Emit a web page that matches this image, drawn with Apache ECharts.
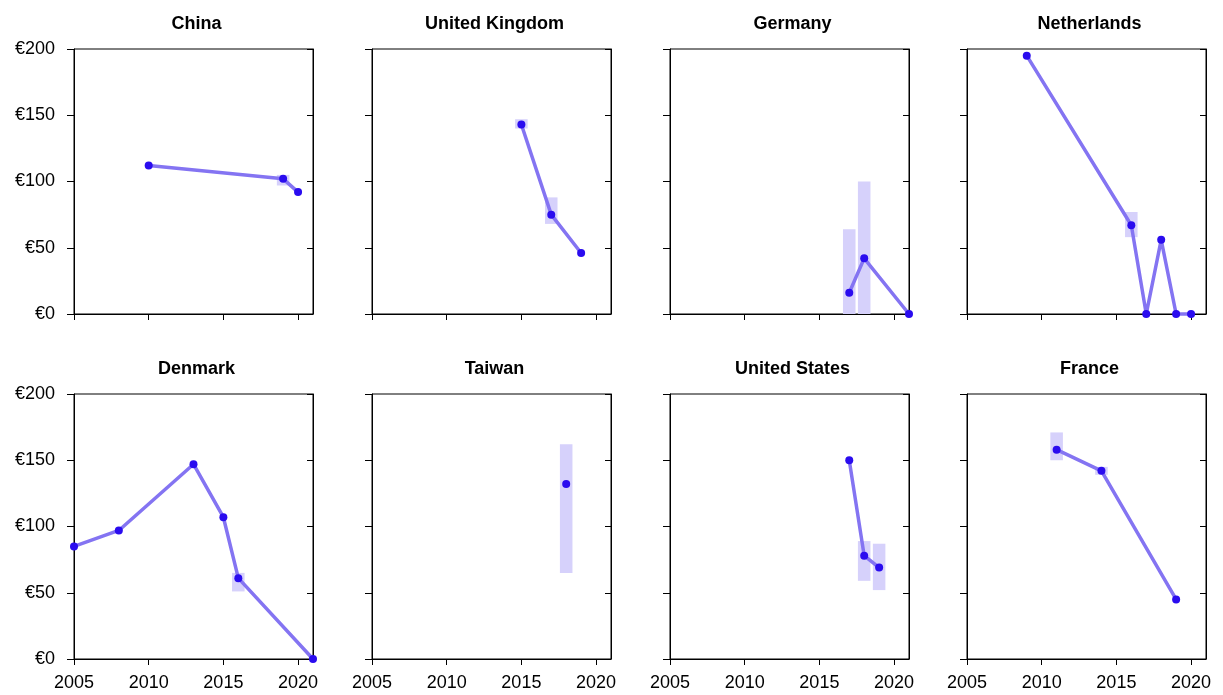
<!DOCTYPE html>
<html>
<head>
<meta charset="utf-8">
<script src="https://cdn.jsdelivr.net/npm/echarts@6/dist/echarts.min.js"></script>
<style>
html,body{margin:0;padding:0;background:#fff;}
#chart{width:1223px;height:695px;}
</style>
</head>
<body>
<div id="chart"></div>
<script>
const countries = ['China', 'United Kingdom', 'Germany', 'Netherlands', 'Denmark', 'Taiwan', 'United States', 'France'];
const xTicks = [2005, 2010, 2015, 2020];
const yTicks = [0, 50, 100, 150, 200];

// points: [year, value]
const chinaPts = [[2010, 112], [2019, 102], [2020, 92]];
const ukPts = [[2015, 143], [2017, 75], [2019, 46]];
const germanyPts = [[2017, 16], [2018, 42], [2021, 0]];
const netherlandsPts = [[2009, 195], [2016, 67], [2017, 0], [2018, 56], [2019, 0], [2020, 0]];
const denmarkPts = [[2005, 85], [2008, 97], [2013, 147], [2015, 107], [2016, 61], [2021, 0]];
const taiwanPts = [[2018, 132]];
const usPts = [[2017, 150], [2018, 78], [2019, 69]];
const francePts = [[2011, 158], [2014, 142], [2019, 45]];

// ranges: [year, low, high]
const chinaRng = [[2019, 97, 105]];
const ukRng = [[2015, 140, 147], [2017, 68, 88]];
const germanyRng = [[2017, 0, 64], [2018, 0, 100]];
const netherlandsRng = [[2016, 58, 77]];
const denmarkRng = [[2016, 51, 65]];
const taiwanRng = [[2018, 65, 162]];
const usRng = [[2018, 59, 89], [2019, 52, 87]];
const franceRng = [[2011, 150, 171], [2014, 139, 145]];

const allPts = [chinaPts, ukPts, germanyPts, netherlandsPts, denmarkPts, taiwanPts, usPts, francePts];
const allRng = [chinaRng, ukRng, germanyRng, netherlandsRng, denmarkRng, taiwanRng, usRng, franceRng];

const colLefts = [74, 372, 670, 967];
const rowTops = [49, 394];
const gridW = 239, gridH = 265;
const font = 'Liberation Sans, Arial, sans-serif';

const grids = [], xAxes = [], yAxes = [], series = [], titles = [];
countries.forEach((name, i) => {
  const r = Math.floor(i / 4), c = i % 4;
  grids.push({left: colLefts[c], top: rowTops[r], width: gridW, height: gridH,
    show: true, borderColor: '#000', borderWidth: 1, backgroundColor: 'transparent'});
  titles.push({text: name, left: colLefts[c] + gridW / 2 - 2, top: rowTops[r] - 39, textAlign: 'center',
    textStyle: {fontFamily: font, fontWeight: 'bold', fontSize: 18, color: '#000'}});
  xAxes.push({type: 'value', gridIndex: i, min: 2005, max: 2021, interval: 5,
    axisLine: {show: true, lineStyle: {color: '#000', width: 1}},
    axisTick: {show: true, length: 6, lineStyle: {color: '#000'},
      customValues: xTicks},
    splitLine: {show: false},
    axisLabel: {show: r === 1, fontFamily: font, fontSize: 18, color: '#000', margin: 15,
      customValues: xTicks, formatter: v => String(v)}});
  yAxes.push({type: 'value', gridIndex: i, min: 0, max: 200, interval: 50, position: 'left',
    axisLine: {show: true, lineStyle: {color: '#000', width: 1}},
    axisTick: {show: true, length: 7, lineStyle: {color: '#000'}},
    splitLine: {show: false},
    axisLabel: {show: c === 0, fontFamily: font, fontSize: 18, color: '#000', margin: 19,
      formatter: v => '€' + v}});
  yAxes.push({type: 'value', gridIndex: i, min: 0, max: 200, interval: 50, position: 'right',
    axisLine: {show: true, lineStyle: {color: '#000', width: 1}},
    axisTick: {show: true, inside: true, length: 6, lineStyle: {color: '#000'}},
    splitLine: {show: false}, axisLabel: {show: false}});
  series.push({type: 'custom', xAxisIndex: i, yAxisIndex: 2 * i, data: allRng[i], z: 1,
    clip: false,
    renderItem: function (params, api) {
      const x = api.value(0), lo = api.value(1), hi = api.value(2);
      const p1 = api.coord([x - 0.42, hi]);
      const p2 = api.coord([x + 0.42, lo]);
      return {type: 'rect', shape: {x: p1[0], y: p1[1], width: p2[0] - p1[0], height: p2[1] - p1[1]},
        style: {fill: '#d6d1fb'}};
    }});
  series.push({type: 'line', xAxisIndex: i, yAxisIndex: 2 * i, data: allPts[i], z: 3,
    clip: false, symbol: 'circle', symbolSize: 8, showSymbol: true,
    lineStyle: {color: '#8474f2', width: 3.5},
    itemStyle: {color: '#2a0cef'}, emphasis: {disabled: true}, animation: false});
});

const chart = echarts.init(document.getElementById('chart'), null, {renderer: 'canvas'});
chart.setOption({
  animation: false,
  backgroundColor: '#fff',
  title: titles,
  grid: grids,
  xAxis: xAxes,
  yAxis: yAxes,
  series: series
});
</script>
</body>
</html>
